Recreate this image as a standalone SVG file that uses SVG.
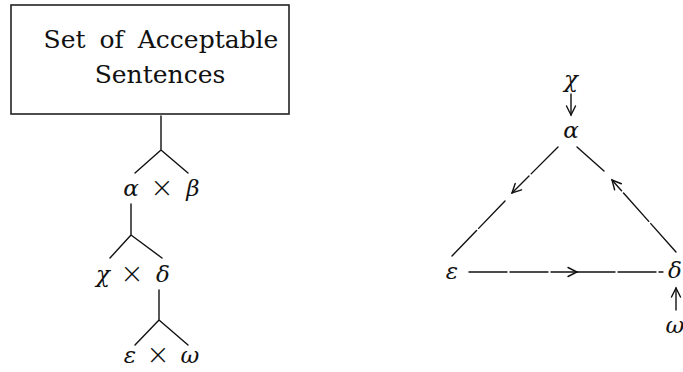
<svg xmlns="http://www.w3.org/2000/svg" width="683" height="372" viewBox="0 0 683 372">
<style>
.ln{stroke:#111;stroke-width:1.4;fill:none;stroke-linecap:round}
.dash{stroke-dasharray:38 3}
.t{font-family:"DejaVu Serif","Liberation Serif",serif;fill:#111}
.g{font-family:"DejaVu Serif","Liberation Serif",serif;font-style:italic;font-size:23px;fill:#111;text-anchor:middle}
.x{font-family:"DejaVu Sans","Liberation Sans",sans-serif;font-weight:200;font-size:28px;fill:#111;text-anchor:middle}
</style>
<defs>
<marker id="ah" markerUnits="userSpaceOnUse" viewBox="-11 -6 13 12" markerWidth="13" markerHeight="12" refX="0" refY="0" orient="auto">
<path d="M-9,-4.5 L0,0 L-9,4.5" fill="none" stroke="#111" stroke-width="1.4" stroke-linecap="round"/>
</marker>
</defs>
<rect width="683" height="372" fill="#fff"/>
<g id="box">
<rect x="11" y="5" width="278" height="109" fill="#fff" stroke="#222" stroke-width="1.6"/>
<text class="t" x="161" y="48" font-size="25" text-anchor="middle" word-spacing="6">Set of Acceptable</text>
<text class="t" x="160" y="83" font-size="25" text-anchor="middle">Sentences</text>
</g>
<g id="tree-labels">
<g id="ab"><text class="g" x="131" y="196">α</text><text class="x" x="162" y="197">×</text><text class="g" x="193" y="196">β</text></g>
<g id="cd"><text class="g" x="103" y="282">χ</text><text class="x" x="132" y="283">×</text><text class="g" x="163" y="282">δ</text></g>
<g id="ew"><text class="g" x="130" y="363">ε</text><text class="x" x="158" y="364">×</text><text class="g" x="190" y="363">ω</text></g>
</g>
<g id="graph-nodes">
<g id="n-chi"><text class="g" x="571" y="87">χ</text></g>
<g id="n-alpha"><text class="g" x="571" y="138">α</text></g>
<g id="n-eps"><text class="g" x="452" y="279">ε</text></g>
<g id="n-delta"><text class="g" x="675" y="278">δ</text></g>
<g id="n-omega"><text class="g" x="675" y="333">ω</text></g>
</g>
<g id="connectors">
<path class="ln" d="M161,116 L161,150 M161,150 L135,173 M161,150 L188,173"/>
<path class="ln" d="M131,204 L131,235 M131,235 L110,258 M131,235 L162,258"/>
<path class="ln" d="M159,290 L159,320 M159,320 L135,345 M159,320 L188,345"/>
<path class="ln" d="M571,94 L571,115" marker-end="url(#ah)"/>
<path class="ln dash" d="M558,147 L512,193" marker-end="url(#ah)"/>
<path class="ln dash" d="M505,201 L452,256"/>
<path class="ln dash" d="M676,252 L612,180" marker-end="url(#ah)"/>
<path class="ln dash" d="M604,171 L577,147"/>
<path class="ln dash" d="M469,272 L577,272" marker-end="url(#ah)"/>
<path class="ln dash" d="M577,272 L663,272"/>
<path class="ln" d="M676,310 L676,288" marker-end="url(#ah)"/>
</g>
</svg>
